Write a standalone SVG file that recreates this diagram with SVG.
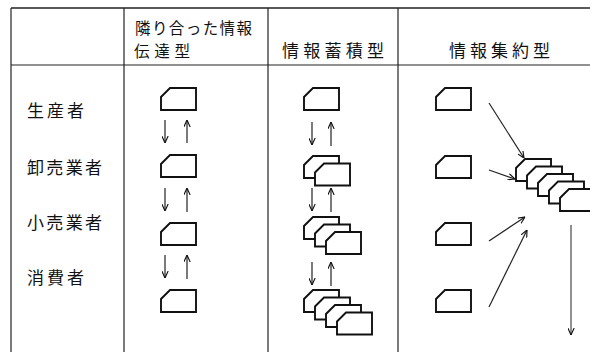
<svg xmlns="http://www.w3.org/2000/svg" xmlns:xlink="http://www.w3.org/1999/xlink" width="590" height="352" viewBox="0 0 590 352">
<style>
.grid{stroke:#222;stroke-width:1.2;fill:none}
.t{font-family:"Noto Sans CJK JP","Noto Sans CJK SC",sans-serif;font-size:17px;fill:#111}
.doc{fill:#fff;stroke:#111;stroke-width:1.9;stroke-linejoin:miter}
.ar{stroke:#222;stroke-width:1.2;fill:none}
</style>
<defs>
<path id="d" class="doc" d="M9,0 H35 V22 H0 V9 Z"/>
<marker id="ah" viewBox="0 0 10 10" refX="10" refY="5" markerWidth="7" markerHeight="7" markerUnits="userSpaceOnUse" orient="auto">
<path d="M0,0.5 L10,5 L0,9.5" fill="none" stroke="#111" stroke-width="1.6"/>
</marker>
</defs>
<rect width="590" height="352" fill="#fff"/>
<g id="table" class="grid">
<line x1="11" y1="8" x2="590" y2="8" stroke-width="1.6"/>
<line x1="11" y1="65" x2="590" y2="65"/>
<line x1="11" y1="8" x2="11" y2="352"/>
<line x1="124" y1="8" x2="124" y2="352"/>
<line x1="268" y1="8" x2="268" y2="352"/>
<line x1="398" y1="8" x2="398" y2="352"/>
</g>
<g id="headers">
<text class="t" style="font-size:15.5px"><tspan x="135" y="34" textLength="117" lengthAdjust="spacing">隣り合った情報</tspan><tspan x="134" y="57" textLength="56" lengthAdjust="spacing">伝達型</tspan></text>
<text class="t" x="282" y="57" textLength="102" lengthAdjust="spacing">情報蓄積型</text>
<text class="t" x="449" y="57" textLength="101" lengthAdjust="spacing">情報集約型</text>
</g>
<g id="rows">
<text class="t" x="27" y="117" textLength="57" lengthAdjust="spacing">生産者</text>
<text class="t" x="27" y="174" textLength="75" lengthAdjust="spacing">卸売業者</text>
<text class="t" x="27" y="229" textLength="75" lengthAdjust="spacing">小売業者</text>
<text class="t" x="27" y="284" textLength="57" lengthAdjust="spacing">消費者</text>
</g>
<g id="col1">
<use xlink:href="#d" x="161" y="88"/>
<use xlink:href="#d" x="161" y="155"/>
<use xlink:href="#d" x="161" y="223"/>
<use xlink:href="#d" x="161" y="290"/>
</g>
<g id="col2">
<use xlink:href="#d" x="304" y="88"/>
<g id="stack2"><use xlink:href="#d" x="304" y="156"/><use xlink:href="#d" x="315" y="163.5"/></g>
<g id="stack3"><use xlink:href="#d" x="304" y="217"/><use xlink:href="#d" x="315" y="224.5"/><use xlink:href="#d" x="326" y="232"/></g>
<g id="stack4"><use xlink:href="#d" x="304" y="290"/><use xlink:href="#d" x="315" y="297.5"/><use xlink:href="#d" x="326" y="305"/><use xlink:href="#d" x="337" y="312.5"/></g>
</g>
<g id="col3">
<use xlink:href="#d" x="436" y="88"/>
<use xlink:href="#d" x="436" y="156"/>
<use xlink:href="#d" x="436" y="223"/>
<use xlink:href="#d" x="436" y="290"/>
<g id="stack5"><use xlink:href="#d" x="516" y="159"/><use xlink:href="#d" x="527" y="166.5"/><use xlink:href="#d" x="538" y="174"/><use xlink:href="#d" x="549" y="181.5"/><use xlink:href="#d" x="560" y="189"/></g>
</g>
<g id="connectors" class="ar" marker-end="url(#ah)">
<line x1="165" y1="120" x2="165" y2="143"/>
<line x1="187" y1="143" x2="187" y2="120"/>
<line x1="165" y1="188" x2="165" y2="211"/>
<line x1="187" y1="212" x2="187" y2="188"/>
<line x1="165" y1="255" x2="165" y2="278"/>
<line x1="187" y1="279" x2="187" y2="255"/>
<line x1="312" y1="122" x2="312" y2="145"/>
<line x1="331" y1="146" x2="331" y2="122"/>
<line x1="312" y1="188" x2="312" y2="211"/>
<line x1="331" y1="212" x2="331" y2="188"/>
<line x1="312" y1="262" x2="312" y2="285"/>
<line x1="331" y1="286" x2="331" y2="262"/>
<line x1="489" y1="103" x2="524" y2="158"/>
<line x1="489" y1="170" x2="515" y2="179"/>
<line x1="489" y1="241" x2="525" y2="217"/>
<line x1="489" y1="307" x2="527" y2="230"/>
<line x1="571" y1="225" x2="571" y2="335" stroke-width="1"/>
</g>
</svg>
